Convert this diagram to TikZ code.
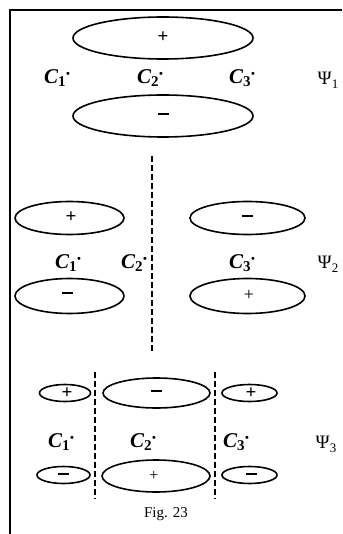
\documentclass[tikz,border=0pt]{standalone}
\usepackage{fontspec}
\setmainfont{Liberation Serif}
\newcommand{\catom}[1]{C\raisebox{-0.35ex}{\fontsize{15}{15}\selectfont\upshape #1}\kern0.5pt\raisebox{0.6ex}{\fontsize{11}{11}\selectfont\upshape\textbullet}}
\newcommand{\psiorb}[1]{Ψ\raisebox{-0.45ex}{\fontsize{13}{13}\selectfont #1}}
\newcommand{\mns}{\rule{11pt}{1.8pt}}
\begin{document}
\begin{tikzpicture}[x=1pt,y=-1pt,
  lobe/.style={draw,line width=1.6pt},
  frame/.style={line width=2pt},
  nodal/.style={line width=1.4pt,dash pattern=on 6pt off 3pt},
  clab/.style={font=\fontsize{21}{21}\selectfont\itshape\bfseries,inner sep=0pt},
  psilab/.style={font=\fontsize{19}{19}\selectfont,inner sep=0pt},
  sgn/.style={font=\fontsize{19}{19}\selectfont\bfseries,inner sep=0pt},
  figcap/.style={font=\fontsize{15}{15}\selectfont,inner sep=0pt}]
\useasboundingbox (0,0) rectangle (342,534);
% frame
\coordinate (ftl) at (10,10);
\coordinate (ftr) at (342,10);
\coordinate (fbl) at (10,534);
\draw[frame] (ftr) -- (ftl) -- (fbl);
% ---- Psi 1 ----
\draw[lobe] (163,38) ellipse [x radius=90,y radius=21];
\node[sgn] (p1a) at (163,37) {+};
\draw[lobe] (163,116) ellipse [x radius=90,y radius=21];
\node[sgn] (p1b) at (163,114) {\mns};
\node[clab] (c11) at (57,78) {\catom{1}};
\node[clab] (c12) at (150,78) {\catom{2}};
\node[clab] (c13) at (242,78) {\catom{3}};
\node[psilab] (psi1) at (328,80) {\psiorb{1}};
% central nodal line
\coordinate (d1) at (152,156);
\coordinate (d2) at (152,353);
\draw[nodal] (d1) -- (d2);
% ---- Psi 2 ----
\draw[lobe] (69.5,218) ellipse [x radius=54.5,y radius=16.5];
\node[sgn] (p2a) at (71,217) {+};
\draw[lobe] (69.5,296) ellipse [x radius=54.5,y radius=17.5];
\node[sgn] (p2b) at (67,293) {\mns};
\draw[lobe] (247.5,218) ellipse [x radius=57.5,y radius=16.5];
\node[sgn] (p2c) at (247,216) {\mns};
\draw[lobe] (247.5,296) ellipse [x radius=57.5,y radius=17.5];
\node[sgn,font=\fontsize{18}{18}\selectfont] (p2d) at (249,295) {+};
\node[clab] (c21) at (68,263) {\catom{1}};
\node[clab] (c22) at (134,263) {\catom{2}};
\node[clab] (c23) at (242,263) {\catom{3}};
\node[psilab] (psi2) at (328,264) {\psiorb{2}};
% ---- Psi 3 ----
\coordinate (l1) at (95,372);
\coordinate (l2) at (95,499);
\coordinate (r1) at (215,372);
\coordinate (r2) at (215,499);
\draw[nodal] (l1) -- (l2);
\draw[nodal] (r1) -- (r2);
\draw[lobe] (65,393) ellipse [x radius=25.5,y radius=8.5];
\node[sgn] (p3a) at (67,393) {+};
\draw[lobe] (156.5,393) ellipse [x radius=53.5,y radius=15];
\node[sgn] (p3b) at (156,391) {\mns};
\draw[lobe] (249.5,393) ellipse [x radius=27.5,y radius=8.5];
\node[sgn] (p3c) at (251,393) {+};
\draw[lobe] (63.5,475) ellipse [x radius=26.5,y radius=8.5];
\node[sgn] (p3d) at (63,474) {\mns};
\draw[lobe] (156,476) ellipse [x radius=54,y radius=16];
\node[sgn,font=\fontsize{16}{16}\selectfont] (p3e) at (154,476) {+};
\draw[lobe] (249.5,475) ellipse [x radius=27.5,y radius=8.5];
\node[sgn] (p3f) at (251,474) {\mns};
\node[clab] (c31) at (61,442) {\catom{1}};
\node[clab] (c32) at (143,442) {\catom{2}};
\node[clab] (c33) at (236,442) {\catom{3}};
\node[psilab] (psi3) at (326,444) {\psiorb{3}};
\node[figcap] (fig) at (166,514) {Fig. 23};
\end{tikzpicture}
\end{document}
